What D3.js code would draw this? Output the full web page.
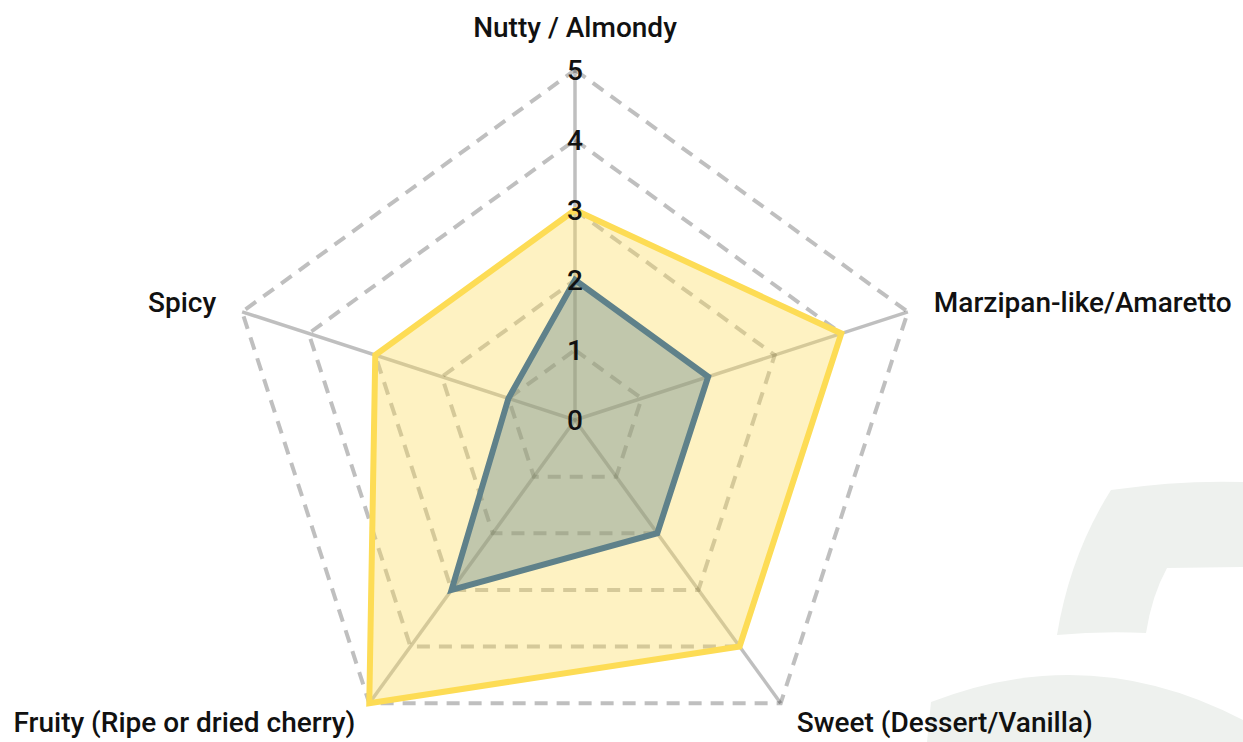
<!DOCTYPE html>
<html>
<head>
<meta charset="utf-8">
<script src="https://cdn.jsdelivr.net/npm/d3@7"></script>
<style>
    body { margin: 0; background: #ffffff; }
    svg text { font-family: Roboto, "Noto Sans", sans-serif; fill: #111; }
</style>
</head>
<body>
<div id="radar"></div>
<script>

// data
let axes = ["Nutty / Almondy", "Marzipan-like/Amaretto", "Sweet (Dessert/Vanilla)", "Fruity (Ripe or dried cherry)", "Spicy"];
let levels = [0, 1, 2, 3, 4, 5];
let yellowValues = [3, 4, 4, 5, 3];
let blueValues = [2, 2, 2, 3, 1];

let width = 1243, height = 742;
let cx = 575, cy = 420, radius = 350;

let svg = d3.select("#radar").append("svg")
    .attr("width", width)
    .attr("height", height);

// watermark in the corner
svg.append("path")
    .attr("d", "M1111,490 Q1180,480 1243,482 L1243,567 L1167,568 Q1152,595 1146,633 Q1100,631 1057,635 Q1070,555 1111,490 Z")
    .style("fill", "#eef1ee");
svg.append("path")
    .attr("d", "M927,742 L931,702 Q1090,640 1243,720 L1243,742 Z")
    .style("fill", "#eef1ee");

let g = svg.append("g")
    .attr("transform", `translate(${cx}, ${cy})`);

let r = d3.scaleLinear()
    .domain([0, 5])
    .range([0, radius]);

let angle = d3.scaleLinear()
    .domain([0, axes.length])
    .range([0, 2 * Math.PI]);

function point(i, v) {
    let a = angle(i);
    return [Math.sin(a) * r(v), -Math.cos(a) * r(v)];
}

let gridColor = "rgba(0,0,0,0.25)";

// dashed pentagons
g.selectAll(".grid-level")
    .data(levels.slice(1))
    .enter()
    .append("polygon")
    .attr("class", "grid-level")
    .attr("points", d => axes.map((a, i) => point(i, d).join(",")).join(" "))
    .style("fill", "none")
    .style("stroke", gridColor)
    .style("stroke-width", 4)
    .style("stroke-dasharray", "13,9");

// spokes
g.selectAll(".spoke")
    .data(axes)
    .enter()
    .append("line")
    .attr("class", "spoke")
    .attr("x1", 0).attr("y1", 0)
    .attr("x2", (d, i) => point(i, 5)[0])
    .attr("y2", (d, i) => point(i, 5)[1])
    .style("stroke", gridColor)
    .style("stroke-width", 3.5);

// series
let series = [
    {values: yellowValues, stroke: "#fddc55", fill: "rgba(253,220,85,0.36)"},
    {values: blueValues, stroke: "#5f818a", fill: "rgba(95,129,138,0.38)"}
];

g.selectAll(".area")
    .data(series)
    .enter()
    .append("polygon")
    .attr("class", "area")
    .attr("points", d => d.values.map((v, i) => point(i, v).join(",")).join(" "))
    .style("fill", d => d.fill)
    .style("stroke", d => d.stroke)
    .style("stroke-width", 6)
    .style("stroke-linejoin", "miter");

// level numbers
g.selectAll(".level-label")
    .data(levels)
    .enter()
    .append("text")
    .attr("class", "level-label")
    .attr("x", 0)
    .attr("y", d => -r(d))
    .attr("dy", "0.36em")
    .attr("text-anchor", "middle")
    .style("font-size", "28px")
    .style("font-weight", 500)
    .text(d => d);

// axis labels
let labelOffsets = [[0, -43], [26, -10], [16, 19], [-14, 19], [-26, -10]];

g.selectAll(".axis-label")
    .data(axes)
    .enter()
    .append("text")
    .attr("class", "axis-label")
    .attr("x", (d, i) => point(i, 5)[0] + labelOffsets[i][0])
    .attr("y", (d, i) => point(i, 5)[1] + labelOffsets[i][1])
    .attr("dy", "0.36em")
    .attr("text-anchor", (d, i) => {
        let x = point(i, 5)[0];
        return x > 1 ? "start" : (x < -1 ? "end" : "middle");
    })
    .style("font-size", "28px")
    .style("font-weight", 500)
    .text(d => d);

</script>
</body>
</html>
